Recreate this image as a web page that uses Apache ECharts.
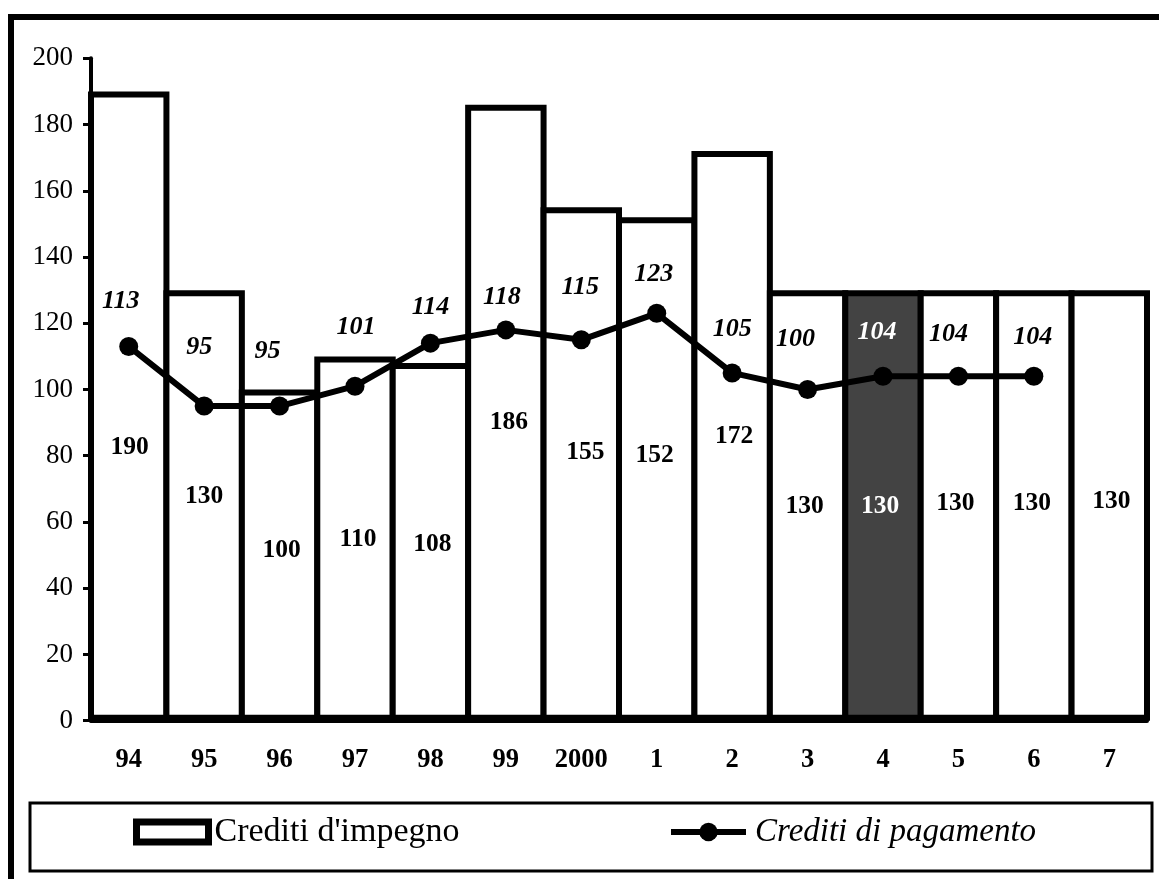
<!DOCTYPE html>
<html>
<head>
<meta charset="utf-8">
<script src="https://cdn.jsdelivr.net/npm/echarts@6/dist/echarts.min.js"></script>
<style>
html,body{margin:0;padding:0;background:#fff;}
#chart{width:1159px;height:879px;}
</style>
</head>
<body>
<div id="chart"></div>
<script>
// ---- data ----
var categories = ['94','95','96','97','98','99','2000','1','2','3','4','5','6','7'];
var impegno = [190,130,100,110,108,186,155,152,172,130,130,130,130,130];
var pagamento = [113,95,95,101,114,118,115,123,105,100,104,104,104,null];
var yTicks = {min:0, max:200, interval:20};
var highlightIndex = 10;

// ---- label placement (style only) ----
var barLabelOffset = [[1,41],[0,-9],[2,-5],[3,1],[2,3],[3,10],[4,-12],[-2,-14],[2,1],[-3,1],[-3,1],[-3,-2],[-2,-2],[2,-4]];
var lineLabelOffset = [[-8,-45],[-5,-59],[-12,-55],[1,-59],[0,-36],[-4,-33],[-1,-53],[-3,-39],[0,-44],[-12,-50],[-6,-44],[-10,-42],[-1,-39]];

var FONT = '"Liberation Serif","Times New Roman",serif';
var DARK = '#434343';
var GRID_LEFT = 91, GRID_RIGHT = 12, BORDER = 6;
var catWidth = (1159 - GRID_LEFT - GRID_RIGHT) / categories.length;

var barData = impegno.map(function(v,i){
  var hi = i === highlightIndex;
  return {
    value: v,
    itemStyle: {color: hi ? DARK : '#ffffff'},
    label: {offset: barLabelOffset[i], color: hi ? '#ffffff' : '#000000'}
  };
});
var lineData = pagamento.map(function(v,i){
  var hi = i === highlightIndex;
  return {
    value: v,
    label: {offset: lineLabelOffset[i] || [0,0], color: hi ? '#ffffff' : '#000000'}
  };
});

var chart = echarts.init(document.getElementById('chart'), null, {renderer:'canvas'});
chart.setOption({
  backgroundColor: '#ffffff',
  animation: false,
  textStyle: {fontFamily: FONT},
  grid: {left: GRID_LEFT, right: GRID_RIGHT, top: 58.3, bottom: 158.3, containLabel: false},
  xAxis: {
    type: 'category',
    data: categories,
    boundaryGap: true,
    axisLine: {show: true, lineStyle: {color: '#000', width: 4}},
    axisTick: {show: false},
    axisLabel: {color: '#000', fontFamily: FONT, fontSize: 26.5, fontWeight: 'bold', margin: 26, interval: 0},
    splitLine: {show: false}
  },
  yAxis: {
    type: 'value',
    min: yTicks.min, max: yTicks.max, interval: yTicks.interval,
    axisLine: {show: true, lineStyle: {color: '#000', width: 4}},
    axisTick: {show: true, length: 8, lineStyle: {color: '#000', width: 3}},
    axisLabel: {color: '#000', fontFamily: FONT, fontSize: 27, margin: 18},
    splitLine: {show: false}
  },
  legend: [
    {
      data: ['Crediti d\'impegno'],
      left: 133, top: 814, padding: 0,
      itemWidth: 72, itemHeight: 20,
      icon: 'rect',
      itemStyle: {color: '#ffffff', borderColor: '#000', borderWidth: 7},
      textStyle: {color: '#000', fontFamily: FONT, fontSize: 34, lineHeight: 36, padding: [0,0,0,1]}
    },
    {
      data: ['Crediti di pagamento'],
      left: 668, top: 814, padding: 0,
      itemWidth: 75, itemHeight: 23,
      itemStyle: {color: '#000', borderWidth: 0},
      lineStyle: {color: '#000', width: 6},
      textStyle: {color: '#000', fontFamily: FONT, fontSize: 33, fontStyle: 'italic', lineHeight: 36, padding: [0,0,0,4]}
    }
  ],
  graphic: [
    {type: 'rect', shape: {x: 30, y: 803, width: 1122, height: 68}, style: {fill: 'none', stroke: '#000', lineWidth: 3}, z: 0},
    {type: 'line', shape: {x1: 8, y1: 17, x2: 1159, y2: 17}, style: {stroke: '#000', lineWidth: 6}},
    {type: 'line', shape: {x1: 11, y1: 14, x2: 11, y2: 879}, style: {stroke: '#000', lineWidth: 6}}
  ],
  series: [
    {
      name: 'Crediti d\'impegno',
      type: 'bar',
      data: barData,
      barWidth: catWidth + BORDER,
      barGap: '-100%',
      itemStyle: {color: '#ffffff', borderColor: '#000', borderWidth: BORDER},
      label: {show: true, position: 'inside', fontFamily: FONT, fontSize: 25.5, fontWeight: 'bold', color: '#000'},
      z: 2
    },
    {
      name: 'Crediti di pagamento',
      type: 'line',
      data: lineData,
      symbol: 'circle',
      symbolSize: 19,
      itemStyle: {color: '#000'},
      lineStyle: {color: '#000', width: 6},
      label: {show: true, position: 'inside', fontFamily: FONT, fontSize: 26, fontWeight: 'bold', fontStyle: 'italic', color: '#000'},
      z: 3
    }
  ]
});
</script>
</body>
</html>
